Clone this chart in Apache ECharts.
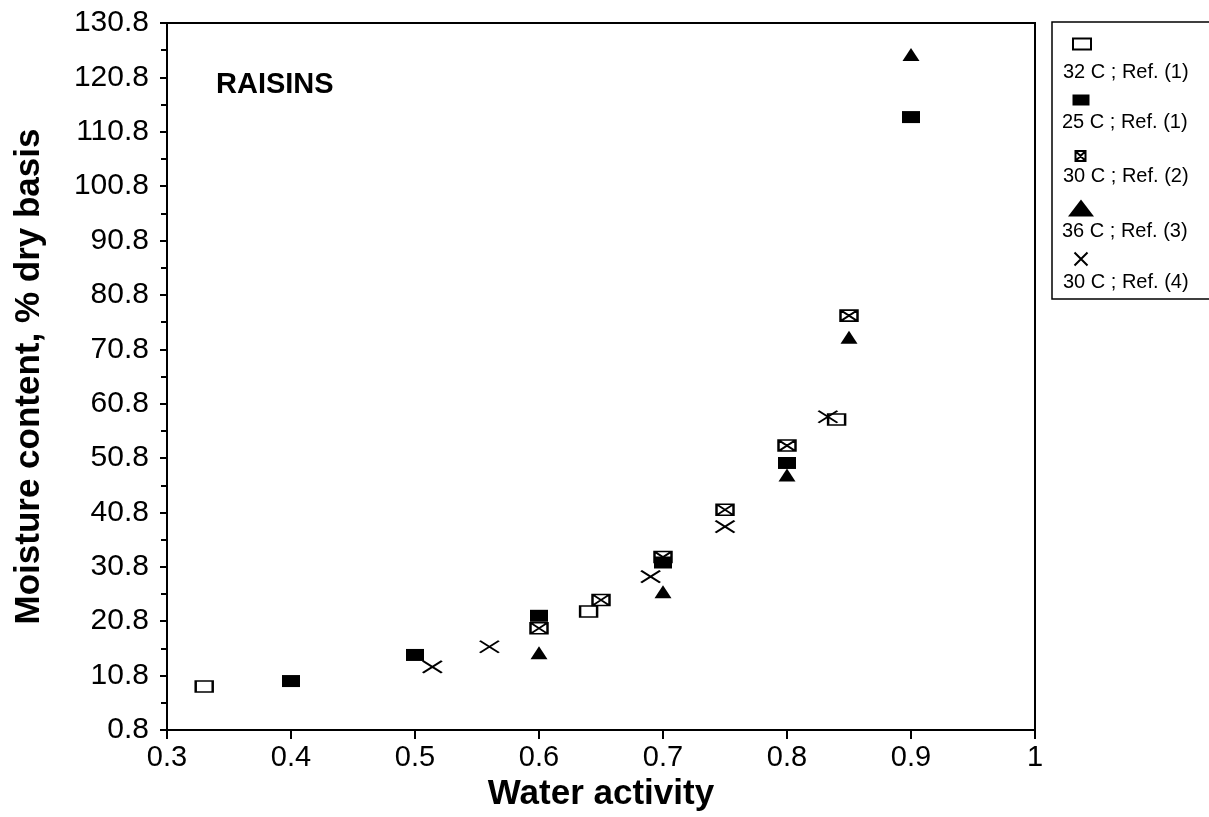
<!DOCTYPE html>
<html>
<head>
<meta charset="utf-8">
<script src="https://cdn.jsdelivr.net/npm/echarts@6/dist/echarts.min.js"></script>
<style>
html,body{margin:0;padding:0;background:#fff;}
#chart{width:1209px;height:817px;}
</style>
</head>
<body>
<div id="chart"></div>
<script>
// ---- data ----
const seriesNames = ['32 C ; Ref. (1)', '25 C ; Ref. (1)', '30 C ; Ref. (2)', '36 C ; Ref. (3)', '30 C ; Ref. (4)'];
const s32Ref1 = [[0.33, 8.8], [0.64, 22.6], [0.84, 57.9]];
const s25Ref1 = [[0.40, 9.8], [0.50, 14.6], [0.60, 21.8], [0.70, 31.6], [0.80, 49.9], [0.90, 113.5]];
const s30Ref2 = [[0.60, 19.5], [0.65, 24.7], [0.70, 32.6], [0.75, 41.3], [0.80, 53.1], [0.85, 77.0]];
const s36Ref3 = [[0.60, 15.0], [0.70, 26.2], [0.80, 47.7], [0.85, 73.0], [0.90, 125.0]];
const s30Ref4 = [[0.514, 12.4], [0.56, 16.1], [0.69, 29.0], [0.75, 38.2], [0.833, 58.4]];
const xRange = [0.3, 1.0];
const yRange = [0.8, 130.8];
const chartTitle = 'RAISINS';
const xTitle = 'Water activity';
const yTitle = 'Moisture content, % dry basis';

// ---- styles ----
const FONT = "'Liberation Sans', Arial, Helvetica, sans-serif";
const crossedSquare = 'path://M0,0H10V10H0Z M0,0L10,10 M10,0L0,10';
const xMark = 'path://M0,0L10,10 M10,0L0,10';

const seriesStyles = [
  {data: s32Ref1, symbol: 'rect', size: [17, 11], item: {color: '#fff', borderColor: '#000', borderWidth: 2, opacity: 1}, lg: [18, 11], z: 2},
  {data: s25Ref1, symbol: 'rect', size: [18, 12], item: {color: '#000', borderColor: '#000', borderWidth: 0, opacity: 1}, lg: [17, 11], z: 4},
  {data: s30Ref2, symbol: crossedSquare, size: [17, 11], item: {color: '#fff', borderColor: '#000', borderWidth: 2, opacity: 1}, lg: [13, 10], z: 3},
  {data: s36Ref3, symbol: 'triangle', size: [17, 13], item: {color: '#000', borderColor: '#000', borderWidth: 0, opacity: 1}, lg: [26, 17], z: 5},
  {data: s30Ref4, symbol: xMark, size: [19, 12], item: {color: 'rgba(0,0,0,0)', borderColor: '#000', borderWidth: 2, opacity: 1}, lg: [15, 13], z: 6}
];

const legendIconCY = [43, 100, 155, 208, 258];
const legendTextCY = [72, 122, 176, 231, 282];
const legendIconCX = 1081;
const legendTextLeft = 1062;

const series = seriesStyles.map((s, i) => ({
  name: seriesNames[i],
  type: 'scatter',
  data: s.data,
  symbol: s.symbol,
  symbolSize: s.size,
  itemStyle: s.item,
  z: s.z,
  emphasis: {disabled: true}
}));

const legends = [];
seriesStyles.forEach((s, i) => {
  legends.push({
    data: [seriesNames[i]],
    left: legendIconCX - s.lg[0] / 2,
    top: legendIconCY[i] - s.lg[1] / 2,
    padding: 0,
    itemWidth: s.lg[0],
    itemHeight: s.lg[1],
    formatter: () => '',
    itemStyle: {opacity: 1},
    textStyle: {fontSize: 1, lineHeight: 1},
    selectedMode: false
  });
  legends.push({
    data: [seriesNames[i]],
    left: legendTextLeft - 5,
    top: legendTextCY[i] - 11,
    padding: 0,
    itemWidth: 0,
    itemHeight: 0,
    itemStyle: {opacity: 0},
    textStyle: {fontSize: 20, lineHeight: 22, color: '#000', fontFamily: FONT},
    selectedMode: false
  });
});

const chart = echarts.init(document.getElementById('chart'), null, {renderer: 'canvas'});
chart.setOption({
  backgroundColor: '#fff',
  animation: false,
  title: {
    text: chartTitle,
    left: 216,
    top: 70,
    padding: 0,
    textStyle: {fontSize: 29, fontWeight: 'bold', color: '#000', fontFamily: FONT}
  },
  legend: legends,
  graphic: [{
    type: 'rect',
    shape: {x: 1052, y: 22, width: 170, height: 277},
    style: {fill: 'none', stroke: '#000', lineWidth: 1.5},
    silent: true
  }],
  grid: {
    left: 167, right: 174, top: 23, bottom: 87,
    show: true, borderColor: '#000', borderWidth: 2, backgroundColor: 'transparent'
  },
  xAxis: {
    type: 'value',
    min: xRange[0], max: xRange[1], interval: 0.1,
    name: xTitle,
    nameLocation: 'middle',
    nameGap: 44,
    nameTextStyle: {fontSize: 35, fontWeight: 'bold', color: '#000', fontFamily: FONT},
    axisLine: {show: true, lineStyle: {color: '#000', width: 2}},
    axisTick: {show: true, inside: false, length: 9, lineStyle: {color: '#000', width: 2}},
    axisLabel: {
      margin: 13, fontSize: 29, color: '#000', fontFamily: FONT,
      formatter: v => String(Math.round(v * 10) / 10)
    },
    splitLine: {show: false}
  },
  yAxis: {
    type: 'value',
    min: yRange[0], max: yRange[1], interval: 10,
    name: yTitle,
    nameLocation: 'middle',
    nameGap: 120,
    nameTextStyle: {fontSize: 35, fontWeight: 'bold', color: '#000', fontFamily: FONT},
    axisLine: {show: true, lineStyle: {color: '#000', width: 2}},
    axisTick: {show: true, inside: false, length: 7, lineStyle: {color: '#000', width: 2}},
    minorTick: {show: true, splitNumber: 2, length: 6, lineStyle: {color: '#000', width: 2}},
    axisLabel: {
      margin: 18, fontSize: 30, color: '#000', fontFamily: FONT,
      formatter: v => (Math.round(v * 10) / 10).toFixed(1)
    },
    splitLine: {show: false},
    minorSplitLine: {show: false}
  },
  series: series
});
</script>
</body>
</html>
